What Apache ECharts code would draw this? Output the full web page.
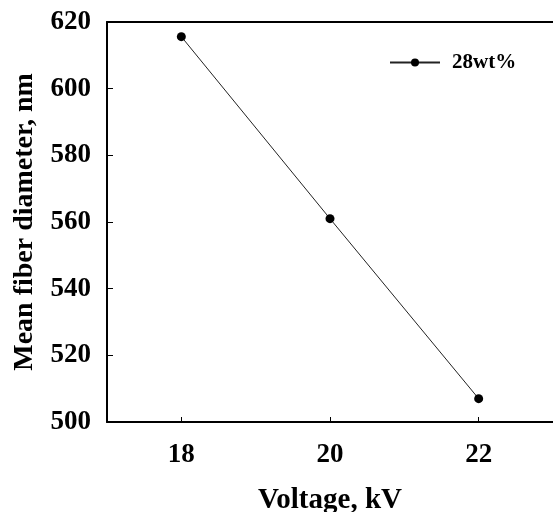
<!DOCTYPE html>
<html>
<head>
<meta charset="utf-8">
<script src="https://cdn.jsdelivr.net/npm/echarts@6/dist/echarts.min.js"></script>
<style>
  html, body { margin: 0; padding: 0; background: #fff; }
  #chart { width: 553px; height: 512px; }
</style>
</head>
<body>
<div id="chart"></div>
<script>
// values
const voltages = [18, 20, 22];
const diameters = [615.6, 561, 507];
const xTicks = [18, 20, 22];
const seriesName = '28wt%';

const FONT = '"Liberation Serif", "Times New Roman", serif';

const chart = echarts.init(document.getElementById('chart'));
chart.setOption({
  animation: false,
  grid: { left: 107, right: 0, top: 22, bottom: 90, outerBoundsMode: 'none' },
  legend: {
    data: [seriesName],
    left: 389,
    top: 52,
    padding: 0,
    itemWidth: 50,
    itemHeight: 10,
    textStyle: { fontFamily: FONT, fontWeight: 'bold', fontSize: 21, color: '#000', padding: [0, 0, 0, 7] }
  },
  xAxis: [
    {
      type: 'value',
      min: 17,
      max: 23,
      name: 'Voltage, kV',
      nameLocation: 'middle',
      nameGap: 64,
      nameTextStyle: { fontFamily: FONT, fontWeight: 'bold', fontSize: 29, color: '#000' },
      splitLine: { show: false },
      axisLine: { lineStyle: { color: '#000', width: 2 } },
      axisTick: { inside: true, length: 5, customValues: xTicks, lineStyle: { color: '#000', width: 1 } },
      axisLabel: {
        customValues: xTicks,
        margin: 20,
        fontFamily: FONT, fontWeight: 'bold', fontSize: 27, color: '#000'
      }
    },
    {
      type: 'value',
      position: 'top',
      min: 17,
      max: 23,
      axisLine: { lineStyle: { color: '#000', width: 2 } },
      axisTick: { show: false },
      axisLabel: { show: false },
      splitLine: { show: false }
    }
  ],
  yAxis: {
    type: 'value',
    min: 500,
    max: 620,
    interval: 20,
    name: 'Mean fiber diameter, nm',
    nameLocation: 'middle',
    nameRotate: 90,
    nameGap: 68,
    nameTextStyle: { fontFamily: FONT, fontWeight: 'bold', fontSize: 28, color: '#000' },
    splitLine: { show: false },
    axisLine: { show: true, lineStyle: { color: '#000', width: 2 } },
    axisTick: { show: true, inside: true, length: 6, lineStyle: { color: '#000', width: 1 } },
    axisLabel: { margin: 16, fontFamily: FONT, fontWeight: 'bold', fontSize: 27, color: '#000' }
  },
  series: [{
    name: seriesName,
    type: 'line',
    data: voltages.map((v, i) => [v, diameters[i]]),
    symbol: 'circle',
    symbolSize: 9,
    itemStyle: { color: '#000' },
    lineStyle: { color: '#222', width: 1 }
  }]
});
</script>
</body>
</html>
